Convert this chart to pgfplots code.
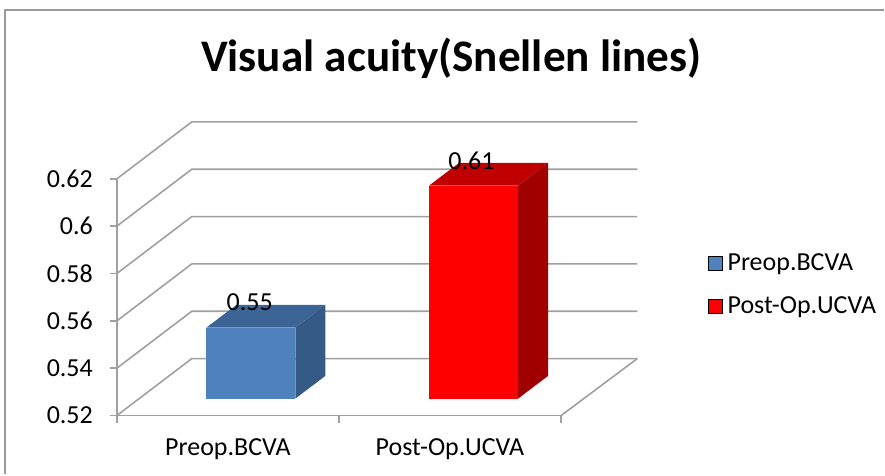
\documentclass[border=0pt]{standalone}
\usepackage{pgfplots}
\pgfplotsset{compat=1.18}
\usepackage{fontspec}
\setmainfont{Carlito}
\definecolor{gridc}{HTML}{A0A0A0}
\definecolor{framec}{HTML}{9A9A9A}
\definecolor{bfront}{HTML}{4F81BD}
\definecolor{btop}{HTML}{3C6494}
\definecolor{bside}{HTML}{355A85}
\definecolor{rfront}{HTML}{FF0000}
\definecolor{rtop}{HTML}{C00000}
\definecolor{rside}{HTML}{A00000}
\newcommand{\lbl}{\fontsize{13}{15}\selectfont}
\begin{document}
\begin{tikzpicture}
\begin{axis}[
  x=0.5pt, y=1185pt,
  xmin=117, xmax=561.7, ymin=0.52, ymax=0.62,
  clip=false,
  axis x line*=bottom, axis y line*=left,
  axis line style={gridc, line width=0.8pt},
  every tick/.style={gridc, line width=0.8pt},
  tick align=outside,
  major tick length=3.5pt,
  ytick={0.52,0.54,0.56,0.58,0.6,0.62},
  yticklabel style={font=\lbl, xshift=-5pt, /pgf/number format/fixed, /pgf/number format/precision=2},
  /pgf/number format/assume math mode=true,
  xtick={117,339.3,561.7}, xticklabels={},
  extra x ticks={228.2,450.5},
  extra x tick labels={Preop.BCVA,Post-Op.UCVA},
  extra x tick style={major tick length=0pt, xticklabel style={font=\lbl, anchor=base, yshift=-20pt}},
  legend cell align=left,
  legend style={at={(axis cs:702,0.57506)}, anchor=west, draw=none, fill=none, font=\lbl, row sep=9.5pt,
    nodes={inner sep=1pt}, /tikz/every odd column/.append style={column sep=1.6pt}},
  legend image code/.code={\fill[#1] (0pt,-3.5pt) rectangle (7pt,3.5pt);},
]
% chart frame and page extent
\path (axis cs:0,0.49511) rectangle (axis cs:885,0.69553);
\draw[framec, line width=1pt] (axis cs:5,0.49511) -- (axis cs:5,0.69131) -- (axis cs:885,0.69131);
% walls and floor
\addplot[gridc, line width=0.8pt, forget plot] coordinates {(117,0.52) (192,0.54405) (638,0.54405)};
\addplot[gridc, line width=0.8pt, forget plot] coordinates {(117,0.54) (192,0.56405) (638,0.56405)};
\addplot[gridc, line width=0.8pt, forget plot] coordinates {(117,0.56) (192,0.58405) (638,0.58405)};
\addplot[gridc, line width=0.8pt, forget plot] coordinates {(117,0.58) (192,0.60405) (638,0.60405)};
\addplot[gridc, line width=0.8pt, forget plot] coordinates {(117,0.60) (192,0.62405) (638,0.62405)};
\addplot[gridc, line width=0.8pt, forget plot] coordinates {(117,0.62) (192,0.64405) (638,0.64405)};
\addplot[gridc, line width=0.8pt, forget plot] coordinates {(561.7,0.52) (638,0.54405)};
% Preop.BCVA = 0.55
\addplot[fill=bfront, draw=none, forget plot] coordinates {(206.7,0.52717) (295.7,0.52717) (295.7,0.55717) (206.7,0.55717)} --cycle;
\addplot[fill=btop, draw=none, forget plot] coordinates {(206.7,0.55717) (295.7,0.55717) (325.7,0.56675) (236.7,0.56675)} --cycle;
\addplot[fill=bside, draw=none, forget plot] coordinates {(295.7,0.52717) (325.7,0.53675) (325.7,0.56675) (295.7,0.55717)} --cycle;
% Post-Op.UCVA = 0.61
\addplot[fill=rfront, draw=none, forget plot] coordinates {(429.7,0.52717) (518.7,0.52717) (518.7,0.61717) (429.7,0.61717)} --cycle;
\addplot[fill=rtop, draw=none, forget plot] coordinates {(429.7,0.61717) (518.7,0.61717) (548.7,0.62675) (459.7,0.62675)} --cycle;
\addplot[fill=rside, draw=none, forget plot] coordinates {(518.7,0.52717) (548.7,0.53675) (548.7,0.62675) (518.7,0.61717)} --cycle;
\node[font=\lbl] at (axis cs:250,0.56768) {0.55};
\node[font=\lbl] at (axis cs:472,0.62772) {0.61};
\node[anchor=base, font=\bfseries\fontsize{22.6}{26}\selectfont] at (axis cs:451.7,0.66528) {Visual acuity(Snellen lines)};
\addlegendimage{fill=bfront}
\addlegendentry{Preop.BCVA}
\addlegendimage{fill=rfront}
\addlegendentry{Post-Op.UCVA}
\end{axis}
\end{tikzpicture}
\end{document}
